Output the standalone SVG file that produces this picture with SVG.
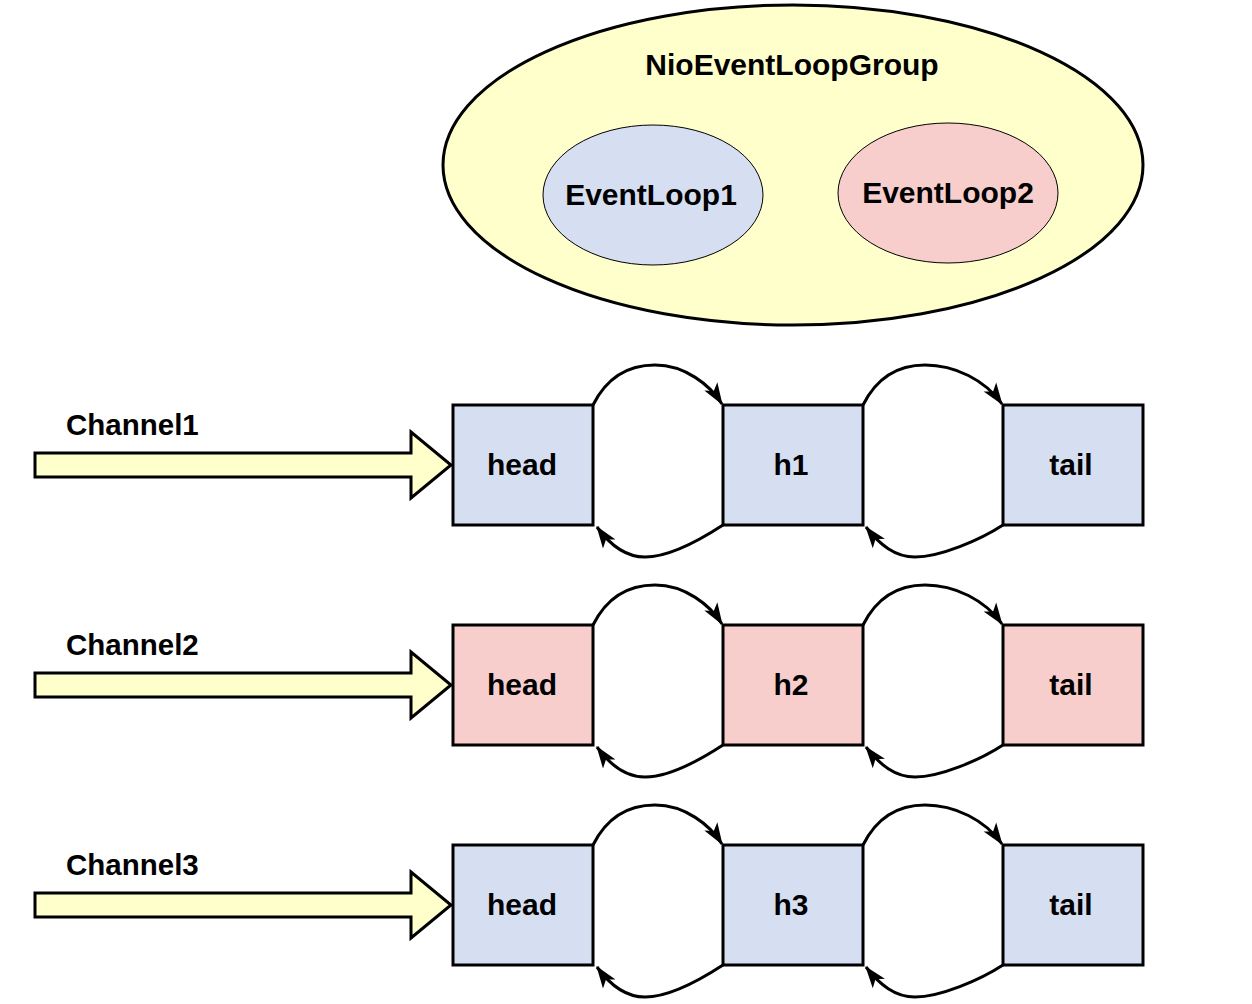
<svg xmlns="http://www.w3.org/2000/svg" width="1252" height="1004" viewBox="0 0 1252 1004">
<defs>
<style>
text{font-family:"Liberation Sans",Arial,sans-serif;font-weight:bold;font-size:30px;fill:#000;text-anchor:middle}
.lbl{text-anchor:start;font-size:29.5px}
.blue{fill:#d6dff1;stroke:#000;stroke-width:3}
.pink{fill:#f8cecc;stroke:#000;stroke-width:3}
.arrow{fill:#ffffcc;stroke:#000;stroke-width:3;stroke-linejoin:miter}
.conn{fill:none;stroke:#000;stroke-width:3;marker-end:url(#ah)}
</style>
<marker id="ah" markerUnits="userSpaceOnUse" markerWidth="22" markerHeight="22" viewBox="0 0 20 20" refX="19" refY="10" orient="auto">
<path d="M0,3 L20,10 L0,17 L5,10 Z" fill="#000"/>
</marker>
</defs>
<rect width="1252" height="1004" fill="#fff"/>

<g id="group">
<ellipse cx="793" cy="165" rx="350" ry="160" fill="#ffffcc" stroke="#000" stroke-width="3"/>
<text x="792" y="75">NioEventLoopGroup</text>
</g>
<g id="eventloop1">
<ellipse cx="653" cy="195" rx="110" ry="70" fill="#d6dff1" stroke="#000" stroke-width="1"/>
<text x="651" y="205">EventLoop1</text>
</g>
<g id="eventloop2">
<ellipse cx="948" cy="193" rx="110" ry="70" fill="#f8cecc" stroke="#000" stroke-width="1"/>
<text x="948" y="203">EventLoop2</text>
</g>

<g id="channel1">
<text class="lbl" x="66" y="435">Channel1</text>
<polygon class="arrow" points="35,453 411,453 411,432 451,465 411,498 411,477 35,477"/>
</g>
<g id="channel2">
<text class="lbl" x="66" y="655">Channel2</text>
<polygon class="arrow" points="35,673 411,673 411,652 451,685 411,718 411,697 35,697"/>
</g>
<g id="channel3">
<text class="lbl" x="66" y="875">Channel3</text>
<polygon class="arrow" points="35,893 411,893 411,872 451,905 411,938 411,917 35,917"/>
</g>

<g id="row1-head"><rect class="blue" x="453" y="405" width="140" height="120"/><text x="522" y="475">head</text></g>
<g id="row1-h1"><rect class="blue" x="723" y="405" width="140" height="120"/><text x="791" y="475">h1</text></g>
<g id="row1-tail"><rect class="blue" x="1003" y="405" width="140" height="120"/><text x="1071" y="475">tail</text></g>

<g id="row2-head"><rect class="pink" x="453" y="625" width="140" height="120"/><text x="522" y="695">head</text></g>
<g id="row2-h2"><rect class="pink" x="723" y="625" width="140" height="120"/><text x="791" y="695">h2</text></g>
<g id="row2-tail"><rect class="pink" x="1003" y="625" width="140" height="120"/><text x="1071" y="695">tail</text></g>

<g id="row3-head"><rect class="blue" x="453" y="845" width="140" height="120"/><text x="522" y="915">head</text></g>
<g id="row3-h3"><rect class="blue" x="723" y="845" width="140" height="120"/><text x="791" y="915">h3</text></g>
<g id="row3-tail"><rect class="blue" x="1003" y="845" width="140" height="120"/><text x="1071" y="915">tail</text></g>

<g id="connectors">
<g>
<path class="conn" d="M593,405 C608,375 630,365 655,365 C685,365 710,385 722,404"/>
<path class="conn" d="M723,525 C700,540 670,557 645,557 C625,557 610,545 597,527"/>
<path class="conn" d="M863,405 C878,375 900,365 925,365 C955,365 985,380 1002,404"/>
<path class="conn" d="M1003,525 C980,540 940,557 915,557 C895,557 880,545 866,527"/>
</g>
<g transform="translate(0,220)">
<path class="conn" d="M593,405 C608,375 630,365 655,365 C685,365 710,385 722,404"/>
<path class="conn" d="M723,525 C700,540 670,557 645,557 C625,557 610,545 597,527"/>
<path class="conn" d="M863,405 C878,375 900,365 925,365 C955,365 985,380 1002,404"/>
<path class="conn" d="M1003,525 C980,540 940,557 915,557 C895,557 880,545 866,527"/>
</g>
<g transform="translate(0,440)">
<path class="conn" d="M593,405 C608,375 630,365 655,365 C685,365 710,385 722,404"/>
<path class="conn" d="M723,525 C700,540 670,557 645,557 C625,557 610,545 597,527"/>
<path class="conn" d="M863,405 C878,375 900,365 925,365 C955,365 985,380 1002,404"/>
<path class="conn" d="M1003,525 C980,540 940,557 915,557 C895,557 880,545 866,527"/>
</g>
</g>
</svg>
